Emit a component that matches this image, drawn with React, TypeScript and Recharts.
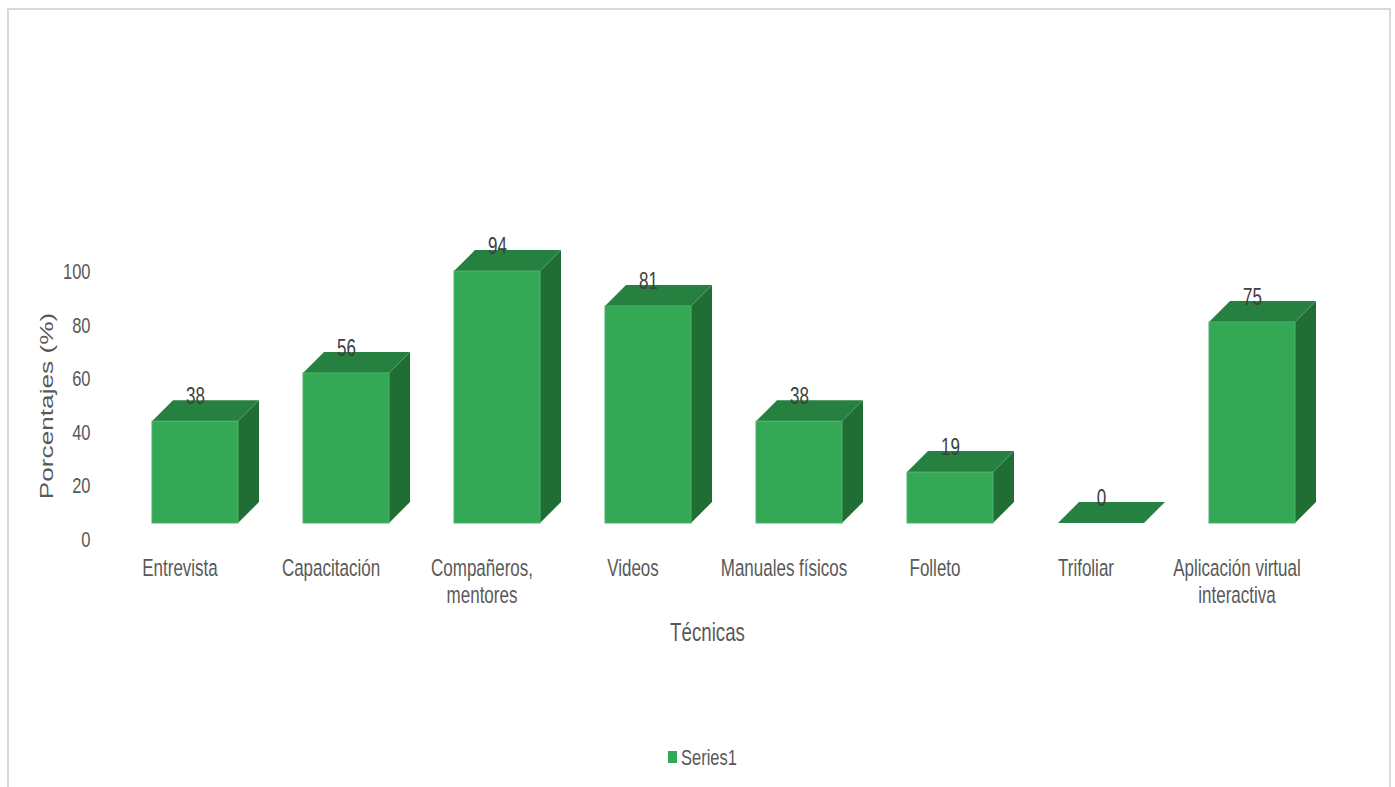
import { BarChart, Bar, XAxis, YAxis, Legend, LabelList } from 'recharts';

const categories = [
  'Entrevista',
  'Capacitación',
  'Compañeros, mentores',
  'Videos',
  'Manuales físicos',
  'Folleto',
  'Trifoliar',
  'Aplicación virtual interactiva',
];
const percentages = [38, 56, 94, 81, 38, 19, 0, 75];
const yTicks = [0, 20, 40, 60, 80, 100];

const data = categories.map((name, i) => ({ name, value: percentages[i] }));

const FONT = '"Liberation Sans", Arial, sans-serif';
const TEXT_COLOR = '#595959';
const FRONT = '#34a855';
const TOP = '#26803f';
const SIDE = '#216e35';

// the 3D box sits above and to the right of the axis origin
const LIFT = 17;
const DEPTH = 21;
const STRETCH = 1.38;

function TallText({ x, y, size, fill = TEXT_COLOR, anchor = 'middle', rotate = 0, children }: any) {
  const rot = rotate ? ` rotate(${rotate})` : '';
  return (
    <text
      transform={`translate(${x} ${y}) scale(1 ${STRETCH})${rot}`}
      fontFamily={FONT}
      fontSize={size}
      fill={fill}
      textAnchor={anchor}
      dominantBaseline="central"
    >
      {children}
    </text>
  );
}

function Box3D({ x, y, width, height }: any) {
  const bottom = y + height - LIFT;
  const top = y - LIFT;
  const right = x + width;
  return (
    <g>
      {height > 0 && (
        <polygon
          points={`${right},${top} ${right + DEPTH},${top - DEPTH} ${right + DEPTH},${bottom - DEPTH} ${right},${bottom}`}
          fill={SIDE}
        />
      )}
      <polygon
        points={`${x},${top} ${x + DEPTH},${top - DEPTH} ${right + DEPTH},${top - DEPTH} ${right},${top}`}
        fill={TOP}
      />
      {height > 0 && <rect x={x} y={top} width={width} height={height} fill={FRONT} stroke="#4cb46d" strokeWidth={1} />}
    </g>
  );
}

function ValueLabel({ x, y, width, value }: any) {
  return (
    <TallText x={x + width / 2 + 0.5} y={y - LIFT - 25.5} size={17} fill="#404040">
      {value}
    </TallText>
  );
}

function splitLabel(label: string) {
  if (label.length <= 16) return [label];
  const cut = label.lastIndexOf(' ');
  return [label.slice(0, cut), label.slice(cut + 1)];
}

function CategoryTick({ x, y, payload }: any) {
  return (
    <g>
      {splitLabel(payload.value).map((line, i) => (
        <TallText key={line} x={x - 14.5} y={y + 25 + i * 27} size={17}>
          {line}
        </TallText>
      ))}
    </g>
  );
}

function PercentTick({ x, y, payload }: any) {
  return (
    <TallText x={x} y={y - 1} size={16.5} anchor="end">
      {payload.value}
    </TallText>
  );
}

function LegendRow({ payload }: any) {
  return (
    <div style={{ display: 'flex', alignItems: 'center', height: 24 }}>
      {(payload || []).map((item: any) => (
        <div key={item.value} style={{ display: 'flex', alignItems: 'center' }}>
          <span style={{ width: 9, height: 12, background: item.color, marginRight: 4 }} />
          <span
            style={{
              fontFamily: FONT,
              fontSize: 16.5,
              color: TEXT_COLOR,
              transform: `scaleY(${STRETCH})`,
              lineHeight: '20px',
            }}
          >
            {item.value}
          </span>
        </div>
      ))}
    </div>
  );
}

export default function App() {
  return (
    <div style={{ position: 'absolute', left: 0, top: 0, width: 1395, height: 787, background: '#fff', overflow: 'hidden' }}>
      <div
        style={{
          position: 'absolute',
          left: 7,
          top: 8,
          width: 1380,
          height: 790,
          border: '2.5px solid #d9d9d9',
        }}
      />
      <BarChart
        width={1395}
        height={787}
        data={data}
        barSize={86}
        margin={{ top: 272, right: 68, bottom: 0, left: 0 }}
      >
        <XAxis
          dataKey="name"
          height={247}
          interval={0}
          axisLine={false}
          tickLine={false}
          tickSize={0}
          tick={<CategoryTick />}
          label={{
            value: 'Técnicas',
            content: ({ viewBox, value }: any) => (
              <TallText x={viewBox.x + viewBox.width / 2 - 15.5} y={632} size={18.7}>
                {value}
              </TallText>
            ),
          }}
        />
        <YAxis
          width={119}
          domain={[0, 100]}
          ticks={yTicks}
          axisLine={false}
          tickLine={false}
          tickSize={0}
          tickMargin={28.5}
          tick={<PercentTick />}
          label={{
            value: 'Porcentajes (%)',
            content: ({ viewBox, value }: any) => (
              <TallText x={46} y={viewBox.y + viewBox.height / 2} size={19} rotate={-90}>
                {value}
              </TallText>
            ),
          }}
        />
        <Legend
          verticalAlign="middle"
          align="center"
          content={<LegendRow />}
          wrapperStyle={{ left: 668, top: 745, width: 'auto' }}
        />
        <Bar dataKey="value" name="Series1" fill={FRONT} shape={<Box3D />} isAnimationActive={false}>
          <LabelList dataKey="value" content={<ValueLabel />} />
        </Bar>
      </BarChart>
    </div>
  );
}
